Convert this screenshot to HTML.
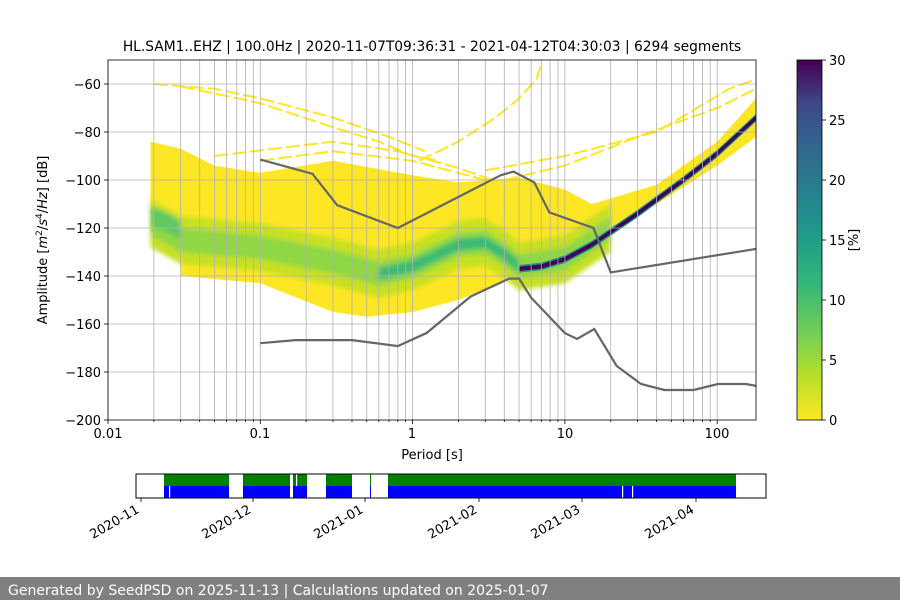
<!DOCTYPE html>
<html><head><meta charset="utf-8"><style>
body{margin:0;background:#fff;}
svg{display:block;font-family:"DejaVu Sans","Liberation Sans",sans-serif;}
</style></head><body>
<svg id="s" width="900" height="600" viewBox="0 0 900 600" xmlns="http://www.w3.org/2000/svg">
<defs>
<linearGradient id="cb" x1="0" y1="1" x2="0" y2="0">
<stop offset="0" stop-color="#fde725"/><stop offset="0.125" stop-color="#b5de2b"/><stop offset="0.25" stop-color="#6ece58"/><stop offset="0.375" stop-color="#35b779"/><stop offset="0.5" stop-color="#1f9e89"/><stop offset="0.625" stop-color="#26828e"/><stop offset="0.75" stop-color="#31688e"/><stop offset="0.875" stop-color="#3e4989"/><stop offset="1" stop-color="#440154"/>
</linearGradient>
<filter id="bl" x="-5%" y="-5%" width="110%" height="110%"><feGaussianBlur stdDeviation="2.5"/></filter>
<clipPath id="ax"><rect x="108" y="60" width="648" height="360"/></clipPath>
</defs>
<g id="dens" clip-path="url(#ax)"></g>
<g id="grid" stroke="#b0b0b0" stroke-width="0.8"></g>
<g id="hn" clip-path="url(#ax)"></g>
<rect x="108" y="60" width="648" height="360" fill="none" stroke="#000" stroke-width="0.8"/>
<g id="ticks" stroke="#000" stroke-width="0.8"></g>
<g font-size="13" fill="#000" text-anchor="end">
<text x="101" y="89">−60</text><text x="101" y="137">−80</text><text x="101" y="185">−100</text><text x="101" y="233">−120</text><text x="101" y="281">−140</text><text x="101" y="329">−160</text><text x="101" y="377">−180</text><text x="101" y="425">−200</text>
</g>
<g font-size="13" fill="#000" text-anchor="middle">
<text x="108" y="438">0.01</text><text x="260" y="438">0.1</text><text x="412" y="438">1</text><text x="565" y="438">10</text><text x="717" y="438">100</text>
<text x="432" y="459">Period [s]</text>
<text x="432" y="51" font-size="13.8">HL.SAM1..EHZ | 100.0Hz | 2020-11-07T09:36:31 - 2021-04-12T04:30:03 | 6294 segments</text>
</g>
<text transform="translate(47,240) rotate(-90)" font-size="13" text-anchor="middle">Amplitude [<tspan font-style="italic">m</tspan><tspan font-size="9" dy="-5">2</tspan><tspan dy="5">/</tspan><tspan font-style="italic">s</tspan><tspan font-size="9" dy="-5">4</tspan><tspan dy="5">/</tspan><tspan font-style="italic">Hz</tspan>] [dB]</text>
<rect x="797" y="60" width="25" height="360" fill="url(#cb)"/>
<rect x="797" y="60" width="25" height="360" fill="none" stroke="#000" stroke-width="0.8"/>
<g stroke="#000" stroke-width="0.8"><line x1="822" y1="420" x2="826" y2="420"/><line x1="822" y1="360" x2="826" y2="360"/><line x1="822" y1="300" x2="826" y2="300"/><line x1="822" y1="240" x2="826" y2="240"/><line x1="822" y1="180" x2="826" y2="180"/><line x1="822" y1="120" x2="826" y2="120"/><line x1="822" y1="60" x2="826" y2="60"/></g>
<g font-size="13"><text x="829" y="425">0</text><text x="829" y="365">5</text><text x="829" y="305">10</text><text x="829" y="245">15</text><text x="829" y="185">20</text><text x="829" y="125">25</text><text x="829" y="65">30</text></g>
<text transform="translate(858,240) rotate(-90)" font-size="13" text-anchor="middle">[%]</text>
<g id="tl"></g>
<rect x="136" y="474" width="630" height="24" fill="none" stroke="#000" stroke-width="1"/>
<g font-size="13" text-anchor="end">
<text transform="translate(140,512) rotate(-30)">2020-11</text>
<text transform="translate(252,512) rotate(-30)">2020-12</text>
<text transform="translate(364,512) rotate(-30)">2021-01</text>
<text transform="translate(478,512) rotate(-30)">2021-02</text>
<text transform="translate(581,512) rotate(-30)">2021-03</text>
<text transform="translate(695,512) rotate(-30)">2021-04</text>
</g>
<g stroke="#000" stroke-width="0.8"><line x1="141" y1="498" x2="141" y2="502"/><line x1="253" y1="498" x2="253" y2="502"/><line x1="365" y1="498" x2="365" y2="502"/><line x1="479" y1="498" x2="479" y2="502"/><line x1="582" y1="498" x2="582" y2="502"/><line x1="696" y1="498" x2="696" y2="502"/></g>
<rect x="0" y="577" width="900" height="23" fill="#808080"/>
<text x="8" y="595" font-size="14" fill="#fff">Generated by SeedPSD on 2025-11-13 | Calculations updated on 2025-01-07</text>
</svg>
<script>
const NS="http://www.w3.org/2000/svg";
const X=p=>108+152.3*(Math.log10(p)+2), Y=d=>420-(d+200)*2.4;
function el(par,tag,a){const e=document.createElementNS(NS,tag);for(const k in a)e.setAttribute(k,a[k]);document.getElementById(par).appendChild(e);return e;}
const pts=a=>a.map(q=>X(q[0]).toFixed(1)+","+Y(q[1]).toFixed(1)).join(" ");
for(let e=-2;e<=2;e++)for(let m=1;m<10;m++){const p=m*Math.pow(10,e);const x=X(p);if(x<108||x>756)continue;
 el("grid","line",{x1:x,y1:60,x2:x,y2:420});el("ticks","line",{x1:x,y1:420,x2:x,y2:m==1?424:422});}
for(let d=-180;d<=-60;d+=20){el("grid","line",{x1:108,y1:Y(d),x2:756,y2:Y(d)});}
for(let d=-200;d<=-60;d+=20)el("ticks","line",{x1:104,y1:Y(d),x2:108,y2:Y(d)});
const ys=[[[0.02,-60],[0.05,-62],[0.1,-66],[0.3,-74],[0.7,-82],[1.2,-88]],
[[0.03,-61],[0.1,-68],[0.3,-78],[0.6,-84],[1,-90],[1.5,-92]],
[[1.1,-92],[2,-84],[3.5,-74],[5,-66],[6.5,-58],[7,-52]],
[[0.1,-92],[0.3,-88],[1,-92],[3,-100],[6,-108],[10,-110]],
[[4,-100],[10,-94],[30,-82],[100,-70],[180,-62]],
[[3,-96],[10,-90],[40,-80],[120,-62],[180,-58]],
[[0.05,-90],[0.3,-84],[0.8,-88],[2,-95],[5,-104]]];
ys.forEach(l=>el("dens","polyline",{points:pts(l),fill:"none",stroke:"#fde725","stroke-width":2,"stroke-dasharray":"14 4"}));
el("dens","polygon",{points:pts([[0.019,-84],[0.03,-87],[0.05,-94],[0.1,-97],[0.3,-92],[1,-98],[2,-101],[5,-99],[10,-104],[15,-110],[40,-102],[100,-84],[180,-66],[180,-82],[100,-94],[40,-110],[20,-122],[15,-128],[10,-134],[5,-140],[4,-142],[2,-150],[1,-155],[0.5,-157],[0.3,-155],[0.1,-143],[0.03,-140],[0.029,-125],[0.019,-122]]),fill:"#fde725"});
const g=el("dens","g",{filter:"url(#bl)"});
function band(par,c,w,color){const up=c.map(q=>[q[0],q[1]+w]),lo=c.map(q=>[q[0],q[1]-w]).reverse();const e=document.createElementNS(NS,"polygon");e.setAttribute("points",pts(up.concat(lo)));e.setAttribute("fill",color);par.appendChild(e);}
const c1=[[0.019,-118],[0.03,-125],[0.1,-128],[0.3,-134],[0.6,-139],[1,-136],[2,-127],[3,-126],[4,-131],[5,-136],[10,-133],[20,-120]];
band(g,c1,10,"#c8e020");band(g,c1,5,"#8fd744");band(g,c1.slice(4,10),2.5,"#3bbb75");
band(g,[[0.019,-115],[0.025,-118],[0.03,-121]],4,"#5ec962");
const c2=[[5,-137],[7,-136],[10,-133],[15,-127],[30,-114],[60,-100],[100,-89],[180,-74]];
band(document.getElementById("dens"),c2,1.6,"#21918c");
band(document.getElementById("dens"),c2,0.9,"#440154");
el("hn","polyline",{points:pts([[0.1,-91.5],[0.22,-97.4],[0.32,-110.5],[0.8,-120],[3.8,-98],[4.6,-96.5],[6.3,-101],[7.9,-113.5],[15.4,-120],[20,-138.5],[180,-128.7]]),fill:"none",stroke:"#666","stroke-width":2.2});
el("hn","polyline",{points:pts([[0.1,-168],[0.17,-166.7],[0.4,-166.7],[0.8,-169.2],[1.24,-163.7],[2.4,-148.6],[4.3,-141.1],[5,-141.1],[6,-149],[10,-163.8],[12,-166.2],[15.6,-162.1],[21.9,-177.5],[31.6,-185],[45,-187.5],[70,-187.5],[101,-185],[154,-185],[180,-185.8]]),fill:"none",stroke:"#666","stroke-width":2.2});
[[164,229],[243,290],[293,307],[326,352],[370,371],[388,736]].forEach(s=>{el("tl","rect",{x:s[0],y:474,width:s[1]-s[0],height:12,fill:"#008000"});el("tl","rect",{x:s[0],y:486,width:s[1]-s[0],height:12,fill:"#0000ff"});});
[[169,486],[622,486],[632,486],[296,474]].forEach(s=>el("tl","rect",{x:s[0],y:s[1],width:1.2,height:12,fill:"#fff"}));
</script>
</body></html>
